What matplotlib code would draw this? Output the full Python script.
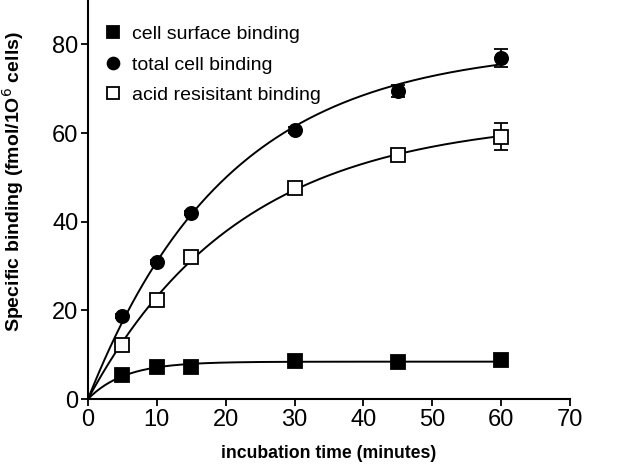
'''
Time course of specific binding: surface, total and acid-resistant
'''

import numpy as np
import matplotlib
matplotlib.use('Agg')
import matplotlib.pyplot as plt

# -- Data --
timeMin = np.array([5, 10, 15, 30, 45, 60])
surfaceBinding = np.array([5.4, 7.2, 7.2, 8.6, 8.3, 8.8])
surfaceErr = np.array([0.4, 0.4, 0.4, 0.4, 0.4, 0.5])
totalBinding = np.array([18.7, 30.9, 42.0, 60.7, 69.5, 77.0])
totalErr = np.array([0.5, 0.5, 0.5, 0.6, 1.3, 2.0])
acidBinding = np.array([12.2, 22.3, 32.0, 47.6, 55.0, 59.2])
acidErr = np.array([0.5, 0.6, 0.6, 0.7, 0.8, 3.0])

labels = ['cell surface binding', 'total cell binding', 'acid resisitant binding']


def fit_one_phase(xvals, yvals):
    '''Fit Y = Ymax*(1-exp(-k*x)) by scanning k and solving Ymax by least squares'''
    bestErr = np.inf
    bestPars = (0, 0)
    for k in np.linspace(0.005, 0.5, 2000):
        basis = 1 - np.exp(-k*xvals)
        ymax = np.sum(basis*yvals)/np.sum(basis*basis)
        err = np.sum((ymax*basis - yvals)**2)
        if err < bestErr:
            bestErr = err
            bestPars = (ymax, k)
    return bestPars


plt.rcParams['font.family'] = ['Liberation Sans', 'DejaVu Sans']
fig = plt.figure(figsize=(6.4, 4.67), dpi=100)
ax = fig.add_axes([0.1375, 0.1456, 0.753, 0.8544])

xFit = np.linspace(0, 60, 300)
lineProps = dict(color='k', lw=1.4)
styles = [dict(marker='s', mfc='k', mec='k'),
          dict(marker='o', mfc='k', mec='k'),
          dict(marker='s', mfc='w', mec='k')]
series = [(surfaceBinding, surfaceErr), (totalBinding, totalErr), (acidBinding, acidErr)]

handles = []
for (yvals, yerr), style, label in zip(series, styles, labels):
    ymax, k = fit_one_phase(timeMin, yvals)
    ax.plot(xFit, ymax*(1-np.exp(-k*xFit)), **lineProps, zorder=2)
    ax.errorbar(timeMin, yvals, yerr=yerr, fmt='none', ecolor='k', elinewidth=1.3,
                capsize=5, capthick=1.3, zorder=3)
    hh, = ax.plot(timeMin, yvals, ls='none', ms=9.5, mew=1.3, zorder=4, label=label, **style)
    handles.append(hh)

ax.set_xlim(0, 70)
ax.set_ylim(0, 90)
ax.set_xticks(np.arange(0, 71, 10))
ax.set_yticks(np.arange(0, 81, 20))
ax.spines['top'].set_visible(False)
ax.spines['right'].set_visible(False)
ax.spines['left'].set_linewidth(1.5)
ax.spines['bottom'].set_linewidth(1.5)
ax.tick_params(width=1.3, length=5, labelsize=17, pad=2)
ax.set_xlabel('incubation time (minutes)', fontsize=12.7, fontweight='bold', labelpad=10)
ax.set_ylabel('Specific binding (fmol/1O$^6$ cells)', fontsize=14, fontweight='bold')
ax.yaxis.set_label_coords(-0.129, 0.546)

ax.legend(handles=handles, loc='upper left', bbox_to_anchor=(0.011, 0.965), frameon=False,
          fontsize=14, handlelength=0.8, handletextpad=0.6, labelspacing=0.66,
          borderaxespad=0.2, markerscale=0.9)

plt.savefig('out.png', dpi=100)
